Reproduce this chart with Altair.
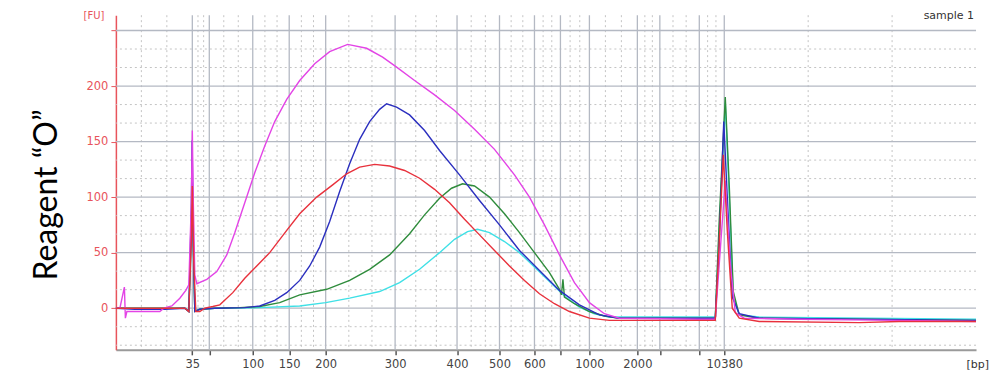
import altair as alt
import pandas as pd

# ---- axis / ladder (migration time in seconds -> bp label) ----
ladder_time = [49.25, 50.95, 55.3, 58.95, 62.6, 69.55, 75.75, 80.0, 83.5, 86.1, 89.0, 93.8, 96.05, 100.0, 102.5]
ladder_label = ["35", "", "100", "150", "200", "300", "400", "500", "600", "", "1000", "2000", "", "", "10380"]
t_min, t_max = 41.6, 127.7
fu_ticks = [0, 50, 100, 150, 200, 250]
fu_min, fu_max = -37.5, 263.8

# ---- traces (time s, FU) ----
magenta = [(41.6,0),(42.0,0),(42.45,19),(42.55,-9),(42.7,-3),(46.0,-3),(46.4,0),(47.2,2),(48.0,9),(48.6,16),
           (48.9,21),(49.15,95),(49.25,160),(49.35,95),(49.5,30),(49.7,22),(50.7,26),(51.7,33),(52.7,48),(53.5,68),
           (54.5,95),(55.5,122),(56.5,146),(57.5,168),(58.7,188),(60.0,205),(61.5,220),(63.0,231),(64.8,237.5),
           (66.7,234),(68.3,226),(69.7,217),(71.5,205),(73.5,192),(75.5,178),(77.5,161),(79.5,143),(81.5,120),
           (83.0,100),(84.5,75),(86.0,48),(87.5,23),(89.0,5),(90.5,-5),(92.0,-9),(100.0,-10),(101.6,-10),(102.0,40),
           (102.6,115),(103.1,40),(103.6,-4),(104.5,-9),(110.0,-10),(120.0,-11),(127.7,-12)]
blue = [(41.6,0),(43.5,-1),(46.5,-1),(48.5,0),(48.9,-3),(49.15,90),(49.23,151),(49.35,60),(49.5,-3),(50.0,-1),
        (51.5,0),(54.5,0.5),(56.0,2),(57.5,7),(58.7,14),(60.0,25),(61.0,38),(62.0,55),(63.0,78),(64.0,105),
        (65.0,130),(66.0,152),(67.0,168),(68.0,179),(68.7,184),(69.7,181),(71.0,174),(72.5,160),(74.0,142),
        (76.0,120),(78.0,97),(80.0,75),(82.0,52),(84.0,34),(86.0,16),(88.0,3),(90.0,-6),(92.0,-9),(101.6,-9),
        (102.0,60),(102.45,168),(102.8,100),(103.3,10),(104.0,-5),(106.0,-9),(127.7,-11)]
red = [(41.6,0),(48.5,0),(48.9,-3),(49.15,60),(49.25,110),(49.4,40),(49.6,-3),(50.0,-3),(50.5,0),(51.3,1.5),
       (52.0,3),(53.3,14),(54.5,27),(55.7,38),(57.0,50),(58.7,70),(60.0,85),(61.7,100),(63.3,111),(64.7,121),
       (66.0,127),(67.5,129.5),(69.0,128),(70.5,124),(72.0,117),(73.5,107),(75.0,95),(76.5,80),(78.0,66),
       (79.5,52),(81.0,38),(82.5,25),(84.0,13),(85.5,4),(87.0,-3),(89.0,-9),(91.0,-11),(101.6,-11),(102.0,60),
       (102.4,138),(102.8,70),(103.3,0),(104.0,-9),(106.0,-12),(116.0,-13),(120.0,-12),(127.7,-12)]
green = [(41.6,0),(48.5,0),(48.9,-3),(49.15,70),(49.25,115),(49.35,60),(49.5,-3),(50.0,-1),(51.5,0),(54.0,0.5),
         (56.0,1.5),(58.0,5),(60.0,12),(62.7,17),(65.0,25),(67.0,35),(69.0,48),(71.0,67),(72.5,84),(74.0,99),
         (75.2,108),(76.3,112),(77.5,110),(79.0,100),(80.5,85),(82.0,68),(83.5,50),(85.0,32),(86.0,17),(86.2,12),
         (86.35,26),(86.5,10),(87.5,4),(89.0,-3),(90.5,-7),(92.0,-9),(101.6,-9),(102.0,80),(102.6,190),
         (103.0,110),(103.4,15),(104.0,-6),(106.0,-9),(127.7,-11)]
cyan = [(41.6,0),(48.5,0),(48.9,-2),(49.15,60),(49.25,105),(49.35,50),(49.5,-2),(50.0,-1),(51.5,0),(56.0,0.5),
        (60.0,2),(62.6,5),(65.0,9),(68.0,15),(70.0,23),(72.0,35),(74.0,50),(75.5,62),(76.8,69),(77.8,71),
        (79.0,68),(80.5,60),(82.0,50),(83.5,37),(85.0,24),(86.5,11),(88.0,1),(89.5,-5),(91.0,-8),(101.6,-8),
        (102.0,70),(102.6,185),(103.0,100),(103.4,10),(104.0,-6),(106.0,-8),(127.7,-10)]

series = [("cyan", cyan, "#3fe0e6"), ("green", green, "#2f8c3c"), ("blue", blue, "#2b2fbf"),
          ("magenta", magenta, "#e344e6"), ("red", red, "#e8313c")]

# ---- encodings ----
label_expr = " : ".join(f"datum.value == {t} ? '{l}'" for t, l in zip(ladder_time, ladder_label)) + " : ''"
x_enc = alt.X("t:Q", scale=alt.Scale(domain=[t_min, t_max], nice=False, zero=False),
              axis=alt.Axis(values=ladder_time, labelExpr=label_expr, grid=False, title=None,
                            tickColor="#555555", tickSize=5, tickWidth=1.5, domainColor="#9a9a9a",
                            domainWidth=2, labelFont="DejaVu Sans", labelFontSize=11.5, labelColor="#444444",
                            labelPadding=4, labelFlush=False, labelOverlap=False))
y_enc = alt.Y("fu:Q", scale=alt.Scale(domain=[fu_min, fu_max], nice=False, zero=False),
              axis=alt.Axis(values=fu_ticks, labelExpr="datum.value == 250 ? '' : datum.label", grid=False,
                            title=None, domainColor="#e8545c", domainWidth=1.5, tickColor="#e8545c",
                            tickSize=5, labelColor="#e8545c", labelFont="DejaVu Sans", labelFontSize=11.5,
                            labelPadding=3))

# ---- grid ----
bounds = [t_min] + ladder_time + [t_max]
minor_t = []
for a, b in zip(bounds[:-1], bounds[1:]):
    minor_t += [a + (b - a) / 3, a + 2 * (b - a) / 3]
minor_fu = []
for v in [-50] + fu_ticks:
    minor_fu += [v + 50 / 3, v + 100 / 3]
minor_fu = [v for v in minor_fu if fu_min < v < fu_max]

vmaj = alt.Chart(pd.DataFrame({"t": ladder_time})).mark_rule(color="#b4b9c3", strokeWidth=1.3).encode(x=x_enc)
vmin = alt.Chart(pd.DataFrame({"t": minor_t})).mark_rule(color="#c4c4c4", strokeWidth=1, strokeDash=[2, 3]).encode(x=x_enc)
hmaj = alt.Chart(pd.DataFrame({"fu": fu_ticks})).mark_rule(color="#b4b9c3", strokeWidth=1.3).encode(y=y_enc)
hmin = alt.Chart(pd.DataFrame({"fu": minor_fu})).mark_rule(color="#c4c4c4", strokeWidth=1, strokeDash=[2, 3]).encode(y=y_enc)

layers = [vmin, hmin, vmaj, hmaj]
for name, pts, col in series:
    df = pd.DataFrame(pts, columns=["t", "fu"])
    layers.append(alt.Chart(df).mark_line(color=col, strokeWidth=1.4, interpolate="linear").encode(x=x_enc, y=y_enc))


def txt(s, x, y, **kw):
    return alt.Chart(pd.DataFrame({"s": [s]})).mark_text(**kw).encode(text="s:N", x=alt.value(x), y=alt.value(y))


layers += [
    txt("[FU]", -22, 1, color="#e8545c", fontSize=10, font="DejaVu Sans"),
    txt("sample 1", 859, 1, color="#333333", fontSize=11, font="DejaVu Sans", align="right"),
    txt("[bp]", 874, 350, color="#333333", fontSize=11, font="DejaVu Sans", align="right"),
    txt("Reagent \u201cO\u201d", -69, 180, color="#000000", fontSize=32, font="Lato", angle=270),
]

chart = alt.layer(*layers).properties(
    width=861, height=335,
    autosize=alt.AutoSizeParams(type="none"),
    padding={"left": 108, "top": 7, "right": 16, "bottom": 20},
    background="#ffffff",
).configure_view(stroke=None)

chart.save("out.html", embed_options={"renderer": "svg", "actions": False})
